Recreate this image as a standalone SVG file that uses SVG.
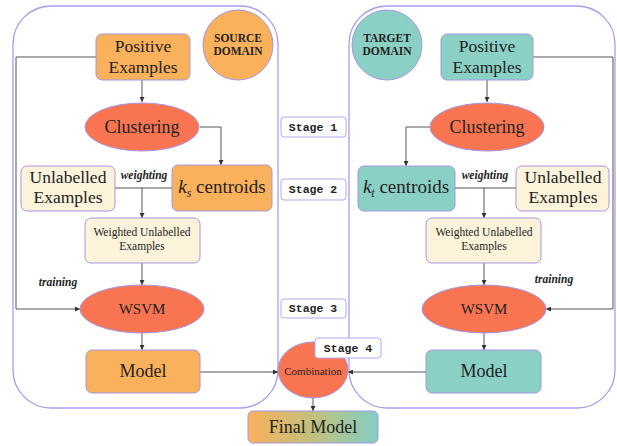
<svg xmlns="http://www.w3.org/2000/svg" width="617" height="446" viewBox="0 0 617 446">
<defs>
<marker id="arr" viewBox="0 0 6 6" refX="6" refY="3" markerWidth="5" markerHeight="5" orient="auto" markerUnits="userSpaceOnUse">
<path d="M0,0 L6,3 L0,6 Z" fill="#333"/>
</marker>
<linearGradient id="fg" x1="0" y1="0" x2="1" y2="0">
<stop offset="0" stop-color="#F9B05C"/>
<stop offset="0.5" stop-color="#C2C07E"/>
<stop offset="1" stop-color="#82CFC4"/>
</linearGradient>
<style>
.cont{fill:none;stroke:#A99CF0;stroke-width:1.3}
.or{fill:#FAB15B;stroke:#A396E6;stroke-width:1}
.te{fill:#8BD0C5;stroke:#A396E6;stroke-width:1}
.cr{fill:#FCF3DA;stroke:#A396E6;stroke-width:1}
.el{fill:#F97552;stroke:#A396E6;stroke-width:1}
.st{fill:#fff;stroke:#B3A8F0;stroke-width:1}
.ln{fill:none;stroke:#555;stroke-width:1}
.tx{font-family:'Liberation Serif',serif;fill:#222;text-anchor:middle}
.t17{font-size:17.5px}
.t18{font-size:18px}
.sm{font-size:11.5px}
.bd{font-size:11.5px;font-weight:bold}
.it{font-size:11.5px;font-weight:bold;font-style:italic}
.stg{font-family:'Liberation Mono',monospace;font-size:11.5px;font-weight:bold}
</style>
</defs>

<g id="containers">
<rect class="cont" x="13" y="6" width="265" height="402" rx="38"/>
<rect class="cont" x="349" y="6" width="266" height="402" rx="38"/>
</g>

<g id="connectors">
<path class="ln" d="M142,80 V102" marker-end="url(#arr)"/>
<path class="ln" d="M200,127 H221 V165" marker-end="url(#arr)"/>
<path class="ln" d="M115,188 H172"/>
<path class="ln" d="M142,188 V218" marker-end="url(#arr)"/>
<path class="ln" d="M142,263 V285" marker-end="url(#arr)"/>
<path class="ln" d="M96,57 H16 V309 H80" marker-end="url(#arr)"/>
<path class="ln" d="M142,333 V350" marker-end="url(#arr)"/>
<path class="ln" d="M200,372 H278" marker-end="url(#arr)"/>
<path class="ln" d="M487,80 V102" marker-end="url(#arr)"/>
<path class="ln" d="M430,127 H406 V166" marker-end="url(#arr)"/>
<path class="ln" d="M455,188 H516"/>
<path class="ln" d="M484,188 V218" marker-end="url(#arr)"/>
<path class="ln" d="M484,263 V285" marker-end="url(#arr)"/>
<path class="ln" d="M533,57 H613 V309 H546" marker-end="url(#arr)"/>
<path class="ln" d="M484,333 V350" marker-end="url(#arr)"/>
<path class="ln" d="M426,372 H348" marker-end="url(#arr)"/>
<path class="ln" d="M313,398 V411" marker-end="url(#arr)"/>
</g>

<g class="tx" font-family="Liberation Serif, serif">
<g id="source-domain">
<circle cx="238" cy="45" r="35" class="or"/>
<text class="bd" x="238" y="42">SOURCE</text>
<text class="bd" x="238" y="55">DOMAIN</text>
</g>
<g id="target-domain">
<circle cx="387" cy="45" r="35" class="te"/>
<text class="bd" x="387" y="42">TARGET</text>
<text class="bd" x="387" y="55">DOMAIN</text>
</g>

<g id="src-positive">
<rect class="or" x="96" y="34" width="94" height="46" rx="6"/>
<text class="t17" x="143" y="52">Positive</text>
<text class="t17" x="143" y="73">Examples</text>
</g>
<g id="tgt-positive">
<rect class="te" x="441" y="34" width="92" height="46" rx="6"/>
<text class="t17" x="487" y="52">Positive</text>
<text class="t17" x="487" y="73">Examples</text>
</g>

<g id="src-clustering">
<ellipse class="el" cx="142" cy="127" rx="57" ry="24"/>
<text class="t18" x="142" y="133">Clustering</text>
</g>
<g id="tgt-clustering">
<ellipse class="el" cx="487" cy="127" rx="57" ry="24"/>
<text class="t18" x="487" y="133">Clustering</text>
</g>

<g id="src-unlabelled">
<rect class="cr" x="21" y="166" width="94" height="45" rx="6"/>
<text class="t17" x="68" y="183">Unlabelled</text>
<text class="t17" x="68" y="203">Examples</text>
</g>
<g id="src-centroids">
<rect class="or" x="172" y="165" width="100" height="46" rx="6"/>
<text x="222" y="193" font-size="19px"><tspan font-style="italic">k</tspan><tspan font-style="italic" font-size="12px" dy="4">s</tspan><tspan dy="-4"> centroids</tspan></text>
</g>
<text class="it" x="144" y="179">weighting</text>

<g id="tgt-centroids">
<rect class="te" x="358" y="166" width="97" height="45" rx="6"/>
<text x="406" y="193" font-size="19px"><tspan font-style="italic">k</tspan><tspan font-style="italic" font-size="12px" dy="4">t</tspan><tspan dy="-4"> centroids</tspan></text>
</g>
<g id="tgt-unlabelled">
<rect class="cr" x="516" y="166" width="93" height="45" rx="6"/>
<text class="t17" x="563" y="183">Unlabelled</text>
<text class="t17" x="563" y="203">Examples</text>
</g>
<text class="it" x="485" y="179">weighting</text>

<g id="src-weighted">
<rect class="cr" x="85" y="218" width="115" height="45" rx="6"/>
<text class="sm" x="142" y="236">Weighted Unlabelled</text>
<text class="sm" x="142" y="250">Examples</text>
</g>
<g id="tgt-weighted">
<rect class="cr" x="426" y="218" width="115" height="45" rx="6"/>
<text class="sm" x="484" y="236">Weighted Unlabelled</text>
<text class="sm" x="484" y="250">Examples</text>
</g>

<text class="it" x="58" y="286">training</text>
<text class="it" x="554" y="283">training</text>

<g id="src-wsvm">
<ellipse class="el" cx="142" cy="309" rx="62" ry="24"/>
<text x="142" y="314" font-size="15px">WSVM</text>
</g>
<g id="tgt-wsvm">
<ellipse class="el" cx="484" cy="309" rx="62" ry="24"/>
<text x="484" y="314" font-size="15px">WSVM</text>
</g>

<g id="src-model">
<rect class="or" x="86" y="350" width="114" height="43" rx="6"/>
<text class="t18" x="143" y="377">Model</text>
</g>
<g id="tgt-model">
<rect class="te" x="426" y="350" width="115" height="43" rx="6"/>
<text class="t18" x="484" y="377">Model</text>
</g>

<g id="stage1">
<rect class="st" x="281" y="117" width="65" height="20" rx="3"/>
<text class="stg" x="313" y="131">Stage 1</text>
</g>
<g id="stage2">
<rect class="st" x="281" y="179" width="65" height="21" rx="3"/>
<text class="stg" x="313" y="193">Stage 2</text>
</g>
<g id="stage3">
<rect class="st" x="281" y="299" width="65" height="19" rx="3"/>
<text class="stg" x="313" y="312">Stage 3</text>
</g>

<g id="combination">
<ellipse class="el" cx="313" cy="370" rx="35" ry="28"/>
<text x="313" y="375" font-size="11px">Combination</text>
</g>
<g id="stage4">
<rect class="st" x="315" y="338" width="66" height="20" rx="3"/>
<text class="stg" x="348" y="352">Stage 4</text>
</g>

<g id="final-model">
<rect x="248" y="411" width="130" height="32" rx="5" fill="url(#fg)" stroke="#A396E6" stroke-width="1"/>
<text class="t18" x="313" y="433">Final Model</text>
</g>
</g>
</svg>
